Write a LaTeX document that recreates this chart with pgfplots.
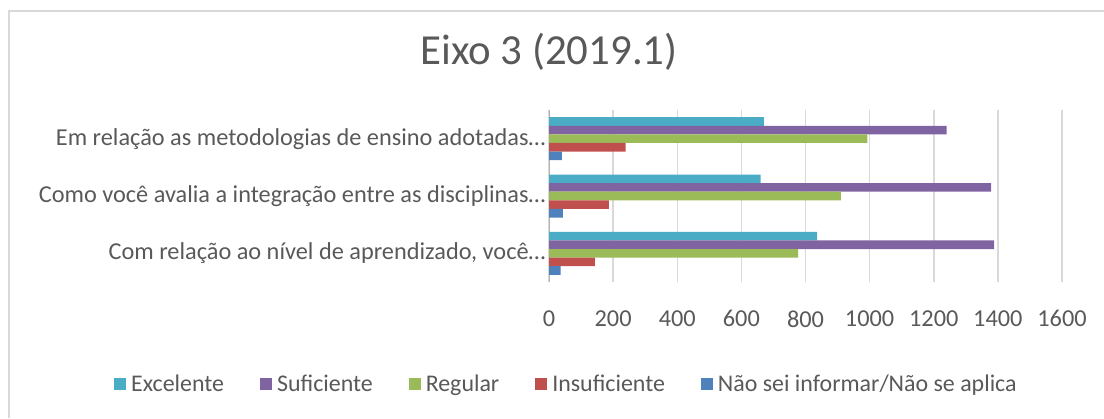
\documentclass[border=0pt]{standalone}
\usepackage{fontspec}
\setmainfont{Carlito}
\usepackage{pgfplots}
\pgfplotsset{compat=1.18}
\definecolor{txt}{HTML}{595959}
\definecolor{cExc}{HTML}{4BACC6}
\definecolor{cSuf}{HTML}{8064A2}
\definecolor{cReg}{HTML}{9BBB59}
\definecolor{cIns}{HTML}{C0504D}
\definecolor{cNao}{HTML}{4F81BD}
\begin{document}
\begin{tikzpicture}[x=1bp,y=1bp]
\path[use as bounding box] (0,0) rectangle (1104,418);
\draw[color=black!15, line width=1.5bp] (9,0) -- (9,407) -- (1104,407);
\node[text=txt, font=\fontsize{43}{50}\selectfont] at (549,366) {Eixo 3 (2019.1)};
\begin{axis}[
  at={(549bp,136bp)}, anchor=south west,
  scale only axis, width=513bp, height=172bp,
  xbar, bar width=0.15,
  xmin=0, xmax=1600, ymin=-0.5, ymax=2.5,
  xtick={0,200,...,1600}, ytick={0,1,2},
  yticklabels={{Com relação ao nível de aprendizado, você…},
               {Como você avalia a integração entre as disciplinas…},
               {Em relação as metodologias de ensino adotadas…}},
  axis x line*=bottom, axis y line*=left,
  x axis line style={draw=none}, y axis line style={draw=black!30, line width=1bp},
  major tick length=0pt,
  xmajorgrids, grid style={color=black!15, line width=1.5bp},
  tick label style={text=txt, font=\fontsize{24.4}{28}\selectfont},
  /pgf/number format/assume math mode=true,
  /pgf/number format/1000 sep={},
  xticklabel style={yshift=-25bp},
  legend columns=5,
  legend style={at={(0.034,-0.593)}, anchor=center, draw=none,
    font=\fontsize{24}{28}\selectfont, text=txt,
    /tikz/every odd column/.append style={column sep=3bp},
    /tikz/every even column/.append style={column sep=34bp}},
  legend image code/.code={\fill[#1,draw=none] (0bp,-6bp) rectangle (12bp,6bp);},
]
\addplot[fill=cExc, draw=none, bar shift=0.30] coordinates {(836,0) (660,1) (670,2)};
\addplot[fill=cSuf, draw=none, bar shift=0.15] coordinates {(1388,0) (1379,1) (1240,2)};
\addplot[fill=cReg, draw=none, bar shift=0] coordinates {(777,0) (910,1) (993,2)};
\addplot[fill=cIns, draw=none, bar shift=-0.15] coordinates {(143,0) (187,1) (239,2)};
\addplot[fill=cNao, draw=none, bar shift=-0.30] coordinates {(36,0) (43,1) (40,2)};
\legend{Excelente, Suficiente, Regular, Insuficiente, Não sei informar/Não se aplica}
\end{axis}
\end{tikzpicture}
\end{document}
